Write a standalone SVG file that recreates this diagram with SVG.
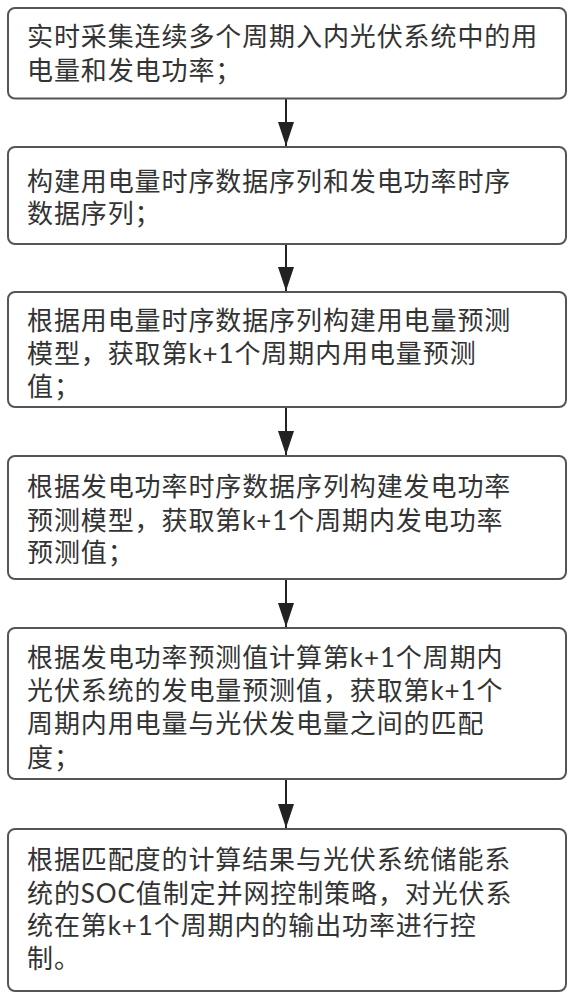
<svg xmlns="http://www.w3.org/2000/svg" width="575" height="1000" viewBox="0 0 575 1000">
<style>
.box{fill:#fff;stroke:#555;stroke-width:2}
.t{font-family:Lato,"Noto Sans CJK SC",sans-serif;font-size:26px;fill:#333;letter-spacing:0.9px}
.c{stroke:#222;stroke-width:2;fill:none}
</style>
<defs>
<marker id="ah" markerUnits="userSpaceOnUse" markerWidth="26" markerHeight="18" refX="24" refY="9" orient="auto" viewBox="0 0 26 18">
<path d="M0,1 L24,9 L0,17 Z" fill="#222"/>
</marker>
</defs>
<rect width="575" height="1000" fill="#fff"/>
<g id="connectors">
<line class="c" x1="286" y1="99" x2="286" y2="146" marker-end="url(#ah)"/>
<line class="c" x1="286" y1="244" x2="286" y2="291" marker-end="url(#ah)"/>
<line class="c" x1="286" y1="407" x2="286" y2="455" marker-end="url(#ah)"/>
<line class="c" x1="286" y1="579" x2="286" y2="627" marker-end="url(#ah)"/>
<line class="c" x1="286" y1="779" x2="286" y2="828" marker-end="url(#ah)"/>
</g>
<g id="n1">
<rect class="box" x="8" y="8" width="558" height="90.5" rx="7"/>
<text class="t"><tspan x="27" y="46">实时采集连续多个周期入内光伏系统中的用</tspan><tspan x="27" y="80">电量和发电功率；</tspan></text>
</g>
<g id="n2">
<rect class="box" x="8" y="147" width="558" height="97" rx="7"/>
<text class="t"><tspan x="27" y="191">构建用电量时序数据序列和发电功率时序</tspan><tspan x="27" y="223">数据序列；</tspan></text>
</g>
<g id="n3">
<rect class="box" x="8" y="292" width="558" height="115" rx="7"/>
<text class="t"><tspan x="27" y="330">根据用电量时序数据序列构建用电量预测</tspan><tspan x="27" y="363">模型，获取第k+1个周期内用电量预测</tspan><tspan x="27" y="396">值；</tspan></text>
</g>
<g id="n4">
<rect class="box" x="8" y="456" width="558" height="123" rx="7"/>
<text class="t"><tspan x="27" y="496">根据发电功率时序数据序列构建发电功率</tspan><tspan x="27" y="530">预测模型，获取第k+1个周期内发电功率</tspan><tspan x="27" y="562">预测值；</tspan></text>
</g>
<g id="n5">
<rect class="box" x="8" y="628" width="558" height="151" rx="7"/>
<text class="t"><tspan x="27" y="667">根据发电功率预测值计算第k+1个周期内</tspan><tspan x="27" y="700">光伏系统的发电量预测值，获取第k+1个</tspan><tspan x="27" y="733">周期内用电量与光伏发电量之间的匹配</tspan><tspan x="27" y="767">度；</tspan></text>
</g>
<g id="n6">
<rect class="box" x="8" y="829" width="558" height="162" rx="7"/>
<text class="t"><tspan x="27" y="869">根据匹配度的计算结果与光伏系统储能系</tspan><tspan x="27" y="903">统的SOC值制定并网控制策略，对光伏系</tspan><tspan x="27" y="935">统在第k+1个周期内的输出功率进行控</tspan><tspan x="27" y="968">制。</tspan></text>
</g>
</svg>
